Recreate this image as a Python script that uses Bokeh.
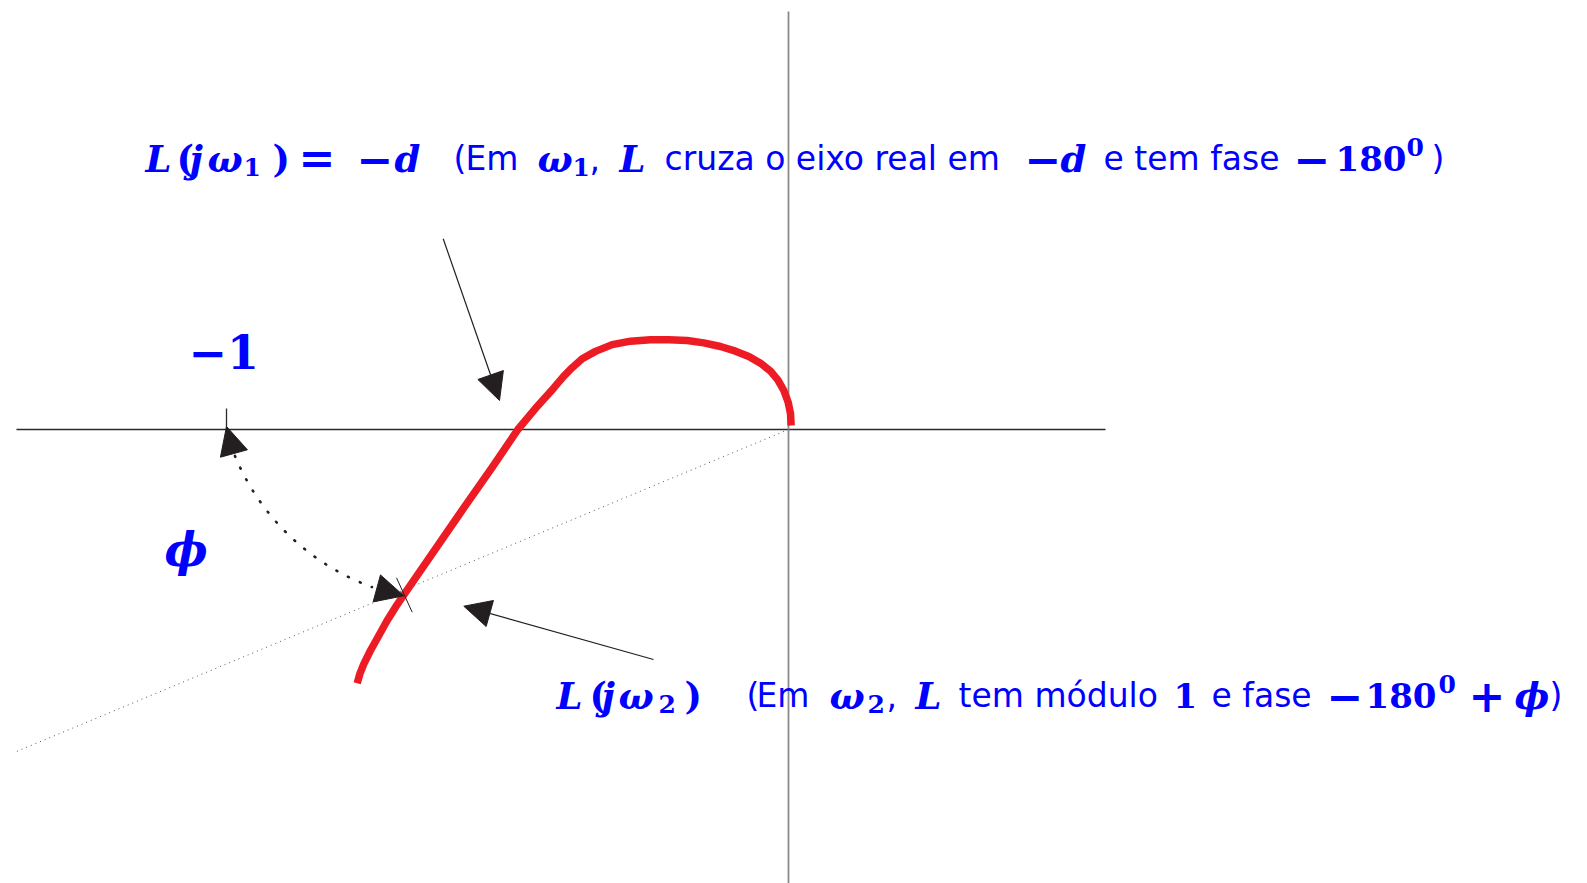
import math

from bokeh.plotting import figure
from bokeh.models import Range1d, ColumnDataSource, Arrow, NormalHead
from bokeh.embed import file_html
from bokeh.resources import INLINE

# Nyquist locus L(jw) in the complex plane (real, imaginary)
curve_re = [0.0047, 0.0036, -0.0006, -0.0083, -0.0190, -0.0320, -0.0498, -0.0706,
            -0.0943, -0.1210, -0.1507, -0.1803, -0.2129, -0.2456, -0.2811, -0.3138,
            -0.3434, -0.3671, -0.3849, -0.3998, -0.4176, -0.4472, -0.4815, -0.5285,
            -0.5810, -0.6833, -0.6993, -0.7141, -0.7289, -0.7438, -0.7556, -0.7627,
            -0.7675]
curve_im = [0.0071, 0.0279, 0.0486, 0.0694, 0.0884, 0.1038, 0.1180, 0.1299,
            0.1394, 0.1477, 0.1542, 0.1584, 0.1596, 0.1596, 0.1572, 0.1510,
            0.1390, 0.1260, 0.1100, 0.0950, 0.0740, 0.0410, 0.0000, -0.0690,
            -0.1441, -0.2924, -0.3161, -0.3399, -0.3665, -0.3932, -0.4170, -0.4348,
            -0.4514]

# critical point and the ray through L(jw2)
critical_re = -1.0
ray_re = [0.0, -1.3737]
ray_im = [0.0, -0.5730]

# axes extents
real_axis = [-1.3737, 0.5641]
imag_axis = [0.7438, -0.82]

# layout: pixels per unit and the origin position on the canvas
W, H = 1587, 883
UNIT = 562.0
OX, OY = 788.0, 429.0


def at(px, py):
    return (px - OX) / UNIT, (OY - py) / UNIT


x0, y1 = at(0, 0)
x1, y0 = at(W, H)

p = figure(width=W, height=H, x_range=Range1d(x0, x1), y_range=Range1d(y0, y1),
           x_axis_type=None, y_axis_type=None, min_border=0,
           toolbar_location=None, output_backend="svg", outline_line_color=None)
p.grid.visible = False
p.background_fill_color = "white"
p.border_fill_color = "white"

# axes
p.line(real_axis, [0, 0], line_color="#2a2a2a", line_width=1.3)
p.line([0, 0], imag_axis, line_color="#8a8a8a", line_width=1.8)
p.line([critical_re, critical_re], [0, at(0, 408)[1]], line_color="#2a2a2a", line_width=1.3)

# dotted ray from origin
p.line(ray_re, ray_im, line_color="#555555", line_width=1, line_dash="1 4")

# Nyquist curve
p.line(curve_re, curve_im, line_color="#ED1C24", line_width=7.5, line_join="round")

# tick crossing the curve at L(jw2)
ta = at(396, 577.3)
tb = at(411.7, 611.7)
p.segment(x0=[ta[0]], y0=[ta[1]], x1=[tb[0]], y1=[tb[1]], line_color="#231F20", line_width=1)

# phase margin arc
cx, cy = at(451.9, 365.3)
p.arc(x=[cx], y=[cy], radius=235.4 / UNIT, start_angle=math.radians(202.5),
      end_angle=math.radians(250.0), direction="anticlock",
      line_color="#231F20", line_width=2.6, line_dash="1 12", line_cap="round")

dark = "#231F20"


def head(size):
    return NormalHead(size=size, fill_color=dark, line_color=dark, line_width=1)


for (sx, sy), (ex, ey), size, lw in [
    ((442.7, 238.3), (499, 400), 27, 1.2),
    ((653, 659), (463.3, 605.7), 27, 1.2),
    ((233.7, 454), (226, 426), 28, 0),
    ((373, 587), (403.3, 595.3), 28, 0),
]:
    a, b = at(sx, sy), at(ex, ey)
    arr = Arrow(x_start=a[0], y_start=a[1], x_end=b[0], y_end=b[1], end=head(size),
                line_color=dark, line_width=max(lw, 0.01), line_alpha=1 if lw else 0)
    p.add_layout(arr)

# text runs: (text, left x, baseline y, style kind)
KINDS = {
    "mi": ("DejaVu Serif", "bold italic", "37px"),
    "mb": ("DejaVu Serif", "bold", "37px"),
    "num": ("DejaVu Serif", "bold", "34px"),
    "op": ("DejaVu Serif", "bold", "44px"),
    "sub": ("DejaVu Serif", "bold", "25px"),
    "sans": ("DejaVu Sans", "normal", "33px"),
    "big": ("DejaVu Serif", "bold", "46px"),
    "bigi": ("DejaVu Serif", "bold italic", "46px"),
}
B1, B2 = 158, 695
runs = [
    ("L", 147, B1, "mi"), ("(", 178, B1, "mb"), ("j", 191, B1, "mi"),
    ("ω", 209, B1, "mi"), ("1", 245, B1 + 8, "sub"), (")", 274, B1, "mb"),
    ("=", 300, B1, "op"), ("−", 358, B1, "op"), ("d", 396, B1, "mi"),
    ("(", 455, B1, "sans"), ("Em", 467, B1, "sans"), ("ω", 539, B1, "mi"),
    ("1", 574, B1 + 8, "sub"), (",", 591, B1, "sans"), ("L", 621, B1, "mi"),
    ("cruza o eixo real em", 666, B1, "sans"), ("−", 1026, B1, "op"),
    ("d", 1062, B1, "mi"), ("e tem fase", 1105, B1, "sans"),
    ("−", 1295, B1, "op"), ("180", 1337, B1, "num"), ("0", 1408, B1 - 12, "sub"),
    (")", 1433, B1, "sans"),

    ("L", 558, B2, "mi"), ("(", 591, B2, "mb"), ("j", 603, B2, "mi"),
    ("ω", 620, B2, "mi"), ("2", 660, B2 + 8, "sub"), (")", 686, B2, "mb"),
    ("(", 748, B2, "sans"), ("Em", 758, B2, "sans"), ("ω", 831, B2, "mi"),
    ("2", 869, B2 + 8, "sub"), (",", 888, B2, "sans"), ("L", 917, B2, "mi"),
    ("tem módulo", 960, B2, "sans"), ("1", 1175, B2, "num"),
    ("e fase", 1213, B2, "sans"), ("−", 1328, B2, "op"), ("180", 1367, B2, "num"),
    ("0", 1440, B2 - 12, "sub"), ("+", 1470, B2, "op"), ("ϕ", 1516, B2, "mi"),
    (")", 1551, B2, "sans"),

    ("−1", 190, 351, "big"),
    ("ϕ", 166, 549, "bigi"),
]

src = dict(x=[], y=[], text=[], font=[], style=[], size=[])
for t, px, py, k in runs:
    dx, dy = at(px - 2, py)
    f, s, z = KINDS[k]
    src["x"].append(dx)
    src["y"].append(dy)
    src["text"].append(t)
    src["font"].append(f)
    src["style"].append(s)
    src["size"].append(z)

p.text(x="x", y="y", text="text", source=ColumnDataSource(src), text_font="font",
       text_font_style="style", text_font_size="size", text_color="#0000FF",
       text_baseline="alphabetic", text_align="left")

open("out.html", "w").write(file_html(p, INLINE))
